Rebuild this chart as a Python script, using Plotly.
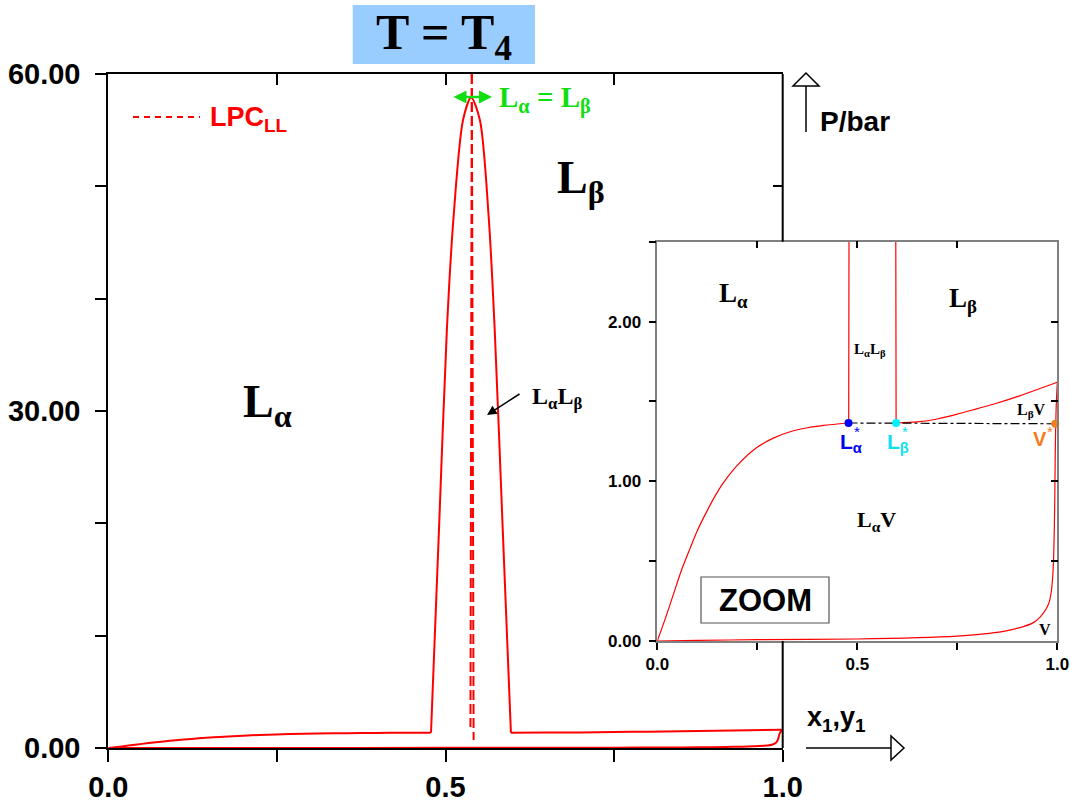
import plotly.graph_objects as go

W, H = 1070, 806

# ---------------- data (x1 mole fraction, P in bar) ----------------
bubble_alpha_x = [0.0, 0.02, 0.04, 0.06, 0.082, 0.1, 0.1235, 0.145, 0.165, 0.2, 0.248,
                  0.29, 0.332, 0.375, 0.416, 0.478]
bubble_alpha_p = [0.0, 0.14, 0.29, 0.44, 0.58, 0.69, 0.81, 0.91, 0.99, 1.10, 1.21,
                  1.27, 1.31, 1.335, 1.35, 1.365]

bubble_beta_x = [0.597, 0.65, 0.70, 0.75, 0.80, 0.85, 0.90, 0.95, 1.0]
bubble_beta_p = [1.365, 1.372, 1.39, 1.42, 1.455, 1.49, 1.53, 1.575, 1.62]

dew_x = [0.0, 0.1, 0.25, 0.5, 0.75, 0.83, 0.875, 0.915, 0.94, 0.957, 0.972, 0.98,
         0.985, 0.989, 0.9915, 0.9935, 0.995, 0.997, 1.0]
dew_p = [0.0, 0.004, 0.008, 0.0125, 0.031, 0.048, 0.065, 0.09, 0.115, 0.15, 0.2, 0.245,
         0.31, 0.42, 0.58, 0.85, 1.2, 1.45, 1.62]

ll_x = [0.4785, 0.4907, 0.502, 0.512, 0.526, 0.538, 0.551, 0.564, 0.573, 0.5845, 0.597]
ll_p = [1.365, 20.0, 37.2, 47.3, 55.9, 57.9, 55.9, 47.3, 37.2, 20.0, 1.365]

lpc1_x = [0.539, 0.537]
lpc1_p = [60.0, 1.87]
lpc2_x = [0.539, 0.5417]
lpc2_p = [60.0, 0.71]

tie_x = [0.478, 0.995]
tie_p = [1.365, 1.36]

star_x = [0.478, 0.597, 0.995]
star_p = [1.365, 1.365, 1.36]
star_colors = ["#0000ff", "#00f0ff", "#f57c1f"]

main_xticks = [0.0, 0.25, 0.5, 0.75, 1.0]
main_xticktext = ["0.0", "", "0.5", "", "1.0"]
main_yticks = [0, 10, 20, 30, 40, 50, 60]
main_yticktext = ["0.00", "", "", "30.00", "", "", "60.00"]
inset_yticks = [0.0, 0.5, 1.0, 1.5, 2.0, 2.5]
inset_yticktext = ["0.00", "", "1.00", "", "2.00", ""]

# ---------------- layout helpers (screen pixels -> paper) ----------------
def fx(x):
    return x / W


def fy(y):
    return 1 - y / H


SERIF = "Liberation Serif"
SANS = "Liberation Sans"
RED = "#ff0000"

main_dx = [fx(108.3), fx(782.7)]
main_dy = [fy(748), fy(74)]
ins_dx = [fx(657.3), fx(1057.3)]
ins_dy = [fy(641), fy(241.7)]

fig = go.Figure()


def curve(x, y, xa, ya, width, dash="solid", color=RED, shape="spline", smoothing=0.8):
    fig.add_trace(go.Scatter(
        x=x, y=y, xaxis=xa, yaxis=ya, mode="lines",
        line=dict(color=color, width=width, dash=dash, shape=shape, smoothing=smoothing),
        hoverinfo="skip", showlegend=False))


# main plot
curve(bubble_alpha_x, bubble_alpha_p, "x", "y", 2)
curve(bubble_beta_x, bubble_beta_p, "x", "y", 2)
curve(dew_x, dew_p, "x", "y", 2, smoothing=0.7)
curve(ll_x, ll_p, "x", "y", 2)
curve(lpc1_x, lpc1_p, "x", "y", 2, dash="10px,4px", shape="linear")
curve(lpc2_x, lpc2_p, "x", "y", 2, dash="10px,4px", shape="linear")

# overlay axis helpers (top / right ticks)
fig.add_trace(go.Scatter(x=[None], y=[None], xaxis="x3", yaxis="y", showlegend=False, hoverinfo="skip"))
fig.add_trace(go.Scatter(x=[None], y=[None], xaxis="x", yaxis="y3", showlegend=False, hoverinfo="skip"))

# inset
curve(bubble_alpha_x, bubble_alpha_p, "x2", "y2", 1.2)
curve(bubble_beta_x, bubble_beta_p, "x2", "y2", 1.2)
curve(dew_x, dew_p, "x2", "y2", 1.2, smoothing=0.7)
curve(ll_x, ll_p, "x2", "y2", 1.2)
curve(tie_x, tie_p, "x2", "y2", 1.2, dash="dashdot", color="black", shape="linear")
fig.add_trace(go.Scatter(x=star_x, y=star_p, xaxis="x2", yaxis="y2", mode="markers",
                         marker=dict(color=star_colors, size=8), hoverinfo="skip",
                         showlegend=False, cliponaxis=False))
fig.add_trace(go.Scatter(x=[None], y=[None], xaxis="x4", yaxis="y2", showlegend=False, hoverinfo="skip"))
fig.add_trace(go.Scatter(x=[None], y=[None], xaxis="x2", yaxis="y4", showlegend=False, hoverinfo="skip"))

tick_main = dict(family=SANS, size=29, color="black")
tick_ins = dict(family=SANS, size=17, color="black")

common = dict(showgrid=False, zeroline=False, automargin=False)

fig.update_layout(
    width=W, height=H,
    margin=dict(l=0, r=0, t=0, b=0, pad=0),
    paper_bgcolor="white", plot_bgcolor="white",
    showlegend=False,
    xaxis=dict(domain=main_dx, anchor="y", range=[0, 1], tickvals=main_xticks,
               ticktext=["<b>%s</b>" % t for t in main_xticktext],
               ticks="outside", ticklen=12, tickwidth=2, tickcolor="black",
               ticklabeloverflow="allow",
               showline=True, linewidth=2, linecolor="black", tickfont=tick_main, **common),
    yaxis=dict(domain=main_dy, anchor="x", range=[0, 60], tickvals=main_yticks,
               ticktext=["<b>%s</b>" % t for t in main_yticktext],
               ticks="outside", ticklen=11, tickwidth=2, tickcolor="black",
               ticklabelstandoff=9,
               showline=True, linewidth=2, linecolor="black", tickfont=tick_main, **common),
    xaxis3=dict(overlaying="x", anchor="y", side="top", range=[0, 1],
                tickvals=[0.25, 0.5, 0.75], ticks="inside", ticklen=11, tickwidth=2,
                tickcolor="black", showticklabels=False, showline=True, linewidth=2,
                linecolor="black", **common),
    yaxis3=dict(overlaying="y", anchor="x", side="right", range=[0, 60],
                tickvals=[50], ticks="inside", ticklen=10, tickwidth=2,
                tickcolor="black", showticklabels=False, showline=False, **common),
    xaxis2=dict(domain=ins_dx, anchor="y2", range=[0, 1], tickvals=main_xticks,
                ticktext=["<b>%s</b>" % t for t in main_xticktext],
                ticks="outside", ticklen=7, tickwidth=1.5, tickcolor="black",
                ticklabeloverflow="allow",
                showline=True, linewidth=1.5, linecolor="#808080", tickfont=tick_ins, **common),
    yaxis2=dict(domain=ins_dy, anchor="x2", range=[0, 2.5], tickvals=inset_yticks,
                ticktext=["<b>%s</b>" % t for t in inset_yticktext],
                ticks="outside", ticklen=7, tickwidth=1.5, tickcolor="black",
                ticklabelstandoff=4,
                showline=True, linewidth=1.5, linecolor="#808080", tickfont=tick_ins, **common),
    xaxis4=dict(overlaying="x2", anchor="y2", side="top", range=[0, 1],
                tickvals=[0.25, 0.5, 0.75], ticks="inside", ticklen=7, tickwidth=1.5,
                tickcolor="black", showticklabels=False, showline=True, linewidth=1.5,
                linecolor="#808080", **common),
    yaxis4=dict(overlaying="y2", anchor="x2", side="right", range=[0, 2.5],
                tickvals=[0.5, 1.0, 1.5, 2.0], ticks="inside", ticklen=7, tickwidth=1.5,
                tickcolor="black", showticklabels=False, showline=True, linewidth=1.5,
                linecolor="#808080", **common),
)

shapes = []
# main right border (hidden behind inset)
shapes.append(dict(type="line", xref="paper", yref="paper", x0=main_dx[1], x1=main_dx[1],
                   y0=main_dy[1], y1=ins_dy[1], line=dict(color="black", width=2)))
shapes.append(dict(type="line", xref="paper", yref="paper", x0=main_dx[1], x1=main_dx[1],
                   y0=ins_dy[0], y1=main_dy[0], line=dict(color="black", width=2)))
# title box
shapes.append(dict(type="rect", xref="paper", yref="paper", x0=fx(352.7), x1=fx(535),
                   y0=fy(64), y1=fy(5), fillcolor="#99ccff", line=dict(width=0)))
# LPC legend sample
shapes.append(dict(type="line", xref="paper", yref="paper", x0=fx(133), x1=fx(200),
                   y0=fy(117), y1=fy(117), line=dict(color=RED, width=2, dash="6px,5px")))
# P/bar arrow
shapes.append(dict(type="line", xref="paper", yref="paper", x0=fx(806), x1=fx(806),
                   y0=fy(132), y1=fy(86), line=dict(color="black", width=1.5)))
shapes.append(dict(type="path", xref="paper", yref="paper",
                   path="M %f %f L %f %f L %f %f Z" % (fx(793), fy(86), fx(819), fy(86), fx(806), fy(73)),
                   fillcolor="white", line=dict(color="black", width=1.5)))
# x1,y1 arrow
shapes.append(dict(type="line", xref="paper", yref="paper", x0=fx(806), x1=fx(891),
                   y0=fy(748), y1=fy(748), line=dict(color="black", width=1.5)))
shapes.append(dict(type="path", xref="paper", yref="paper",
                   path="M %f %f L %f %f L %f %f Z" % (fx(891), fy(736), fx(891), fy(760), fx(904), fy(748)),
                   fillcolor="white", line=dict(color="black", width=1.5)))
# ZOOM box
shapes.append(dict(type="rect", xref="paper", yref="paper", x0=fx(701), x1=fx(829),
                   y0=fy(623), y1=fy(577), line=dict(color="#555555", width=1.2)))
fig.update_layout(shapes=shapes)

ann = []


def txt(x, y, s, size, color="black", family=SERIF, xanchor="center"):
    ann.append(dict(x=fx(x), y=fy(y), xref="paper", yref="paper", text=s, showarrow=False,
                    font=dict(family=family, size=size, color=color),
                    xanchor=xanchor, yanchor="middle"))


txt(444, 36, "<b>T = T<sub>4</sub></b>", 50)
txt(267, 405, "<b>L<sub>α</sub></b>", 46)
txt(581, 181, "<b>L<sub>β</sub></b>", 46)
txt(557, 398, "<b>L<sub>α</sub>L<sub>β</sub></b>", 24)
txt(497, 99, "<b>L<sub>α</sub> = L<sub>β</sub></b>", 29, color="#11dd11", xanchor="left")
txt(208, 119, "<b>LPC<sub>LL</sub></b>", 27, color=RED, family=SANS, xanchor="left")
txt(818, 121, "<b>P/bar</b>", 28, family=SANS, xanchor="left")
txt(805, 719, "<b>x<sub>1</sub>,y<sub>1</sub></b>", 27, family=SANS, xanchor="left")

# inset labels
txt(733, 295, "<b>L<sub>α</sub></b>", 27)
txt(963, 300, "<b>L<sub>β</sub></b>", 27)
txt(870, 350, "<b>L<sub>α</sub>L<sub>β</sub></b>", 15)
txt(1031, 410, "<b>L<sub>β</sub>V</b>", 16)
txt(876, 521, "<b>L<sub>α</sub>V</b>", 22)
txt(1045, 629, "<b>V</b>", 16)
txt(851, 443, "<b>L<sub>α</sub></b>", 21, color="#0000ee", family=SANS)
txt(857, 431, "*", 15, color="#0000ee", family=SANS)
txt(898, 443, "<b>L<sub>β</sub></b>", 21, color="#10e0ee", family=SANS)
txt(905, 431, "*", 15, color="#10e0ee", family=SANS)
txt(1040, 439, "<b>V</b>", 20, color="#f57c1f", family=SANS)
txt(1050, 431, "*", 15, color="#f57c1f", family=SANS)
txt(765, 600, "<b>ZOOM</b>", 31, family=SANS)

# arrows
ann.append(dict(x=fx(487), y=fy(415), xref="paper", yref="paper", text="", showarrow=True,
                ax=34, ay=-22, arrowhead=2, arrowsize=1.2, arrowwidth=1.6, arrowcolor="black"))
ann.append(dict(x=fx(492), y=fy(97), xref="paper", yref="paper", text="", showarrow=True,
                ax=-40, ay=0, arrowhead=2, arrowside="end+start", arrowsize=1,
                arrowwidth=2.6, arrowcolor="#11dd11"))
fig.update_layout(annotations=ann)

# remove the default 8px page margin so the 1070x806 figure fills the window exactly
fig.write_html("out.html", config={"displayModeBar": False},
               post_script="document.body.style.margin='0';document.body.style.overflow='hidden';")
